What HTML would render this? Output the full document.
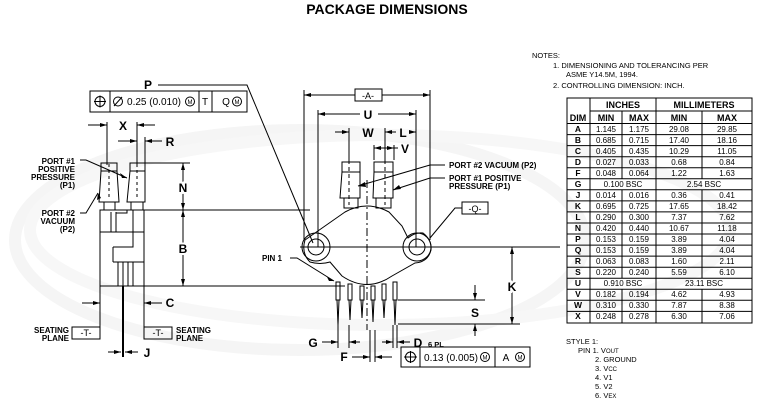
<!DOCTYPE html>
<html><head><meta charset="utf-8"><style>
html,body{margin:0;padding:0;background:#fff;}
svg{display:block;font-family:"Liberation Sans",Arial,sans-serif;}
.b{font-weight:bold;}
</style></head><body>
<svg width="757" height="413" viewBox="0 0 757 413" xmlns="http://www.w3.org/2000/svg">
<!-- watermark -->
<g fill="none" stroke="#f5f5f5" stroke-width="12">
<ellipse cx="300" cy="240" rx="285" ry="110"/>
<ellipse cx="380" cy="230" rx="350" ry="95" stroke="#f7f7f7"/>
</g>
<text x="387" y="14" class="b" font-size="14" text-anchor="middle">PACKAGE DIMENSIONS</text>

<g stroke="#000" fill="none" stroke-width="1">
<!-- left FCF -->
<rect x="90" y="91" width="157" height="21"/>
<line x1="110" y1="91" x2="110" y2="112"/><line x1="199" y1="91" x2="199" y2="112"/><line x1="212" y1="91" x2="212" y2="112"/>
<circle cx="100" cy="101.5" r="5"/><line x1="94" y1="101.5" x2="106" y2="101.5"/><line x1="100" y1="95.5" x2="100" y2="107.5"/>
<circle cx="118" cy="101.5" r="4.5"/><line x1="114" y1="106" x2="122" y2="97"/>
<circle cx="190" cy="101.5" r="4.5"/><circle cx="237" cy="101.5" r="4.5"/>
<!-- P leader -->
<polyline points="158,85 247,85 313,243"/>
<!-- X,R dims -->
<line x1="107" y1="122" x2="107" y2="165"/><line x1="137" y1="122" x2="137" y2="165"/><line x1="145" y1="137" x2="145" y2="165"/>
<line x1="88" y1="125" x2="107" y2="125"/><line x1="137" y1="125" x2="155" y2="125"/>
<line x1="118" y1="141" x2="137" y2="141"/><line x1="145" y1="141" x2="162" y2="141"/>
<!-- left ports -->
<rect x="101" y="163" width="16" height="8"/>
<polygon points="101,171 117,171 119,202 99,202"/>
<rect x="104" y="202" width="11" height="8"/>
<rect x="130" y="163" width="15" height="8"/>
<polygon points="130,171 145,171 145,202 127,202"/>
<rect x="131" y="202" width="12" height="8"/>
<line x1="109" y1="164" x2="109" y2="200" stroke-dasharray="3,3"/><line x1="137" y1="164" x2="137" y2="200" stroke-dasharray="3,3"/>
<!-- left body -->
<rect x="100" y="210" width="44" height="76"/>
<line x1="100" y1="232" x2="144" y2="232"/>
<line x1="111" y1="212" x2="111" y2="232"/><line x1="116" y1="212" x2="116" y2="232"/>
<polyline points="116,213 127,213 127,210"/><line x1="133" y1="210" x2="133" y2="232"/>
<polyline points="113,247 133,247 133,232"/><line x1="113" y1="247" x2="113" y2="262"/><line x1="113" y1="262" x2="144" y2="262"/>
<line x1="118" y1="262" x2="118" y2="286"/><line x1="123" y1="262" x2="123" y2="286"/><line x1="128" y1="262" x2="128" y2="286"/><line x1="133" y1="262" x2="133" y2="286"/>
<line x1="144" y1="210" x2="310" y2="210"/>
<line x1="144" y1="163" x2="190" y2="163"/>
<line x1="100" y1="286" x2="345" y2="286"/>
<line x1="123" y1="286" x2="123" y2="357" stroke-width="2"/>
<!-- N,B dim -->
<line x1="183" y1="163" x2="183" y2="286"/>
<!-- C -->
<line x1="100" y1="286" x2="100" y2="338"/><line x1="144" y1="286" x2="144" y2="338"/>
<line x1="82" y1="303" x2="100" y2="303"/><line x1="144" y1="303" x2="162" y2="303"/>
<rect x="72" y="327" width="28" height="12"/><rect x="144" y="327" width="28" height="12"/>
<line x1="108" y1="352" x2="121" y2="352"/><line x1="125" y1="352" x2="138" y2="352"/>
<!-- port leaders left -->
<polyline points="80,160 86,160 127,178"/>
<polyline points="80,213 86,213 98,193"/>

<!-- main view -->
<line x1="304" y1="90" x2="304" y2="240"/><line x1="430" y1="90" x2="430" y2="240"/>
<line x1="304" y1="95" x2="355" y2="95"/><line x1="382" y1="95" x2="430" y2="95"/>
<rect x="355" y="89" width="27" height="12"/>
<line x1="318" y1="110" x2="318" y2="247"/><line x1="416" y1="110" x2="416" y2="247"/>
<line x1="318" y1="114" x2="360" y2="114"/><line x1="378" y1="114" x2="416" y2="114"/>
<line x1="349" y1="128" x2="349" y2="160"/><line x1="385" y1="128" x2="385" y2="160"/><line x1="374" y1="145" x2="374" y2="160"/><line x1="394" y1="145" x2="394" y2="160"/>
<line x1="335" y1="132" x2="349" y2="132"/><line x1="385" y1="132" x2="396" y2="132"/><line x1="410" y1="132" x2="416" y2="132"/>
<line x1="374" y1="148" x2="398" y2="148"/>
<!-- ports main -->
<rect x="342" y="162" width="18" height="10"/>
<polygon points="342,172 360,172 360,198 340,198"/>
<rect x="344" y="198" width="14" height="10"/>
<rect x="374" y="162" width="19" height="10"/>
<polygon points="374,172 393,172 393,198 373,198"/>
<rect x="376" y="198" width="15" height="10"/>
<line x1="349" y1="160" x2="349" y2="205" stroke-dasharray="4,3"/><line x1="385" y1="160" x2="385" y2="205" stroke-dasharray="4,3"/>
<!-- body -->
<path d="M305,240 L345,212 Q367,200 389,212 L402,226 L408,238 Q415,232 423,233 Q432,240 431,250 Q428,262 415,263 L392,276 Q367,293 342,276 L330,262 Q320,265 310,262 Q301,253 305,240 Z"/>
<circle cx="316" cy="247" r="14"/><circle cx="316" cy="247" r="8"/>
<circle cx="417" cy="247" r="14"/><circle cx="417" cy="247" r="8"/>
<line x1="300" y1="247" x2="560" y2="247"/>
<line x1="367" y1="180" x2="367" y2="330" stroke-dasharray="8,3,2,3"/>
<!-- pins -->
<g>
<rect x="336" y="282" width="4" height="18"/><rect x="348" y="284" width="4" height="16"/><rect x="360" y="286" width="4" height="14"/><rect x="371" y="286" width="4" height="14"/><rect x="382" y="284" width="4" height="16"/><rect x="393" y="282" width="4" height="18"/>
<polyline points="337,300 338,325 339,300"/><polyline points="349,300 350,320 351,300"/><polyline points="361,300 362,318 363,300"/><polyline points="372,300 373,322 374,300"/><polyline points="383,300 384,318 385,300"/><polyline points="394,300 395,325 396,300"/>
</g>
<line x1="338" y1="325" x2="338" y2="348"/><line x1="349" y1="325" x2="349" y2="348"/><line x1="370" y1="330" x2="370" y2="362"/><line x1="375" y1="330" x2="375" y2="362"/><line x1="393" y1="325" x2="393" y2="348"/><line x1="397" y1="325" x2="397" y2="348"/>
<line x1="322" y1="342" x2="338" y2="342"/><line x1="349" y1="342" x2="360" y2="342"/><line x1="382" y1="342" x2="393" y2="342"/><line x1="397" y1="342" x2="410" y2="342"/>
<line x1="352" y1="357" x2="370" y2="357"/><line x1="375" y1="357" x2="392" y2="357"/>
<line x1="398" y1="300" x2="485" y2="300"/><line x1="398" y1="324" x2="520" y2="324"/>
<line x1="475" y1="285" x2="475" y2="300"/><line x1="475" y1="324" x2="475" y2="336"/>
<line x1="512" y1="247" x2="512" y2="324"/>
<!-- bottom FCF -->
<rect x="401" y="347" width="129" height="20"/>
<line x1="420" y1="347" x2="420" y2="367"/><line x1="495" y1="347" x2="495" y2="367"/>
<circle cx="410.5" cy="357" r="5"/><line x1="404" y1="357" x2="417" y2="357"/><line x1="410.5" y1="351" x2="410.5" y2="363"/>
<circle cx="485" cy="357" r="4.5"/><circle cx="520" cy="357" r="4.5"/>
<!-- leaders -->
<polyline points="445,165 430,165 358,186"/>
<polyline points="445,178 430,178 393,190"/>
<polyline points="462,208 455,208 430,238"/>
<rect x="462" y="202" width="26" height="12"/>
<polyline points="290,258 297,258 334,281"/>
</g>
<!-- arrowheads -->
<g fill="#000">
<polygon points="107,125 100,123 100,127"/><polygon points="137,125 144,123 144,127"/>
<polygon points="137,141 130,139 130,143"/><polygon points="145,141 152,139 152,143"/>
<polygon points="183,163 181,170 185,170"/><polygon points="183,210 181,203 185,203"/><polygon points="183,210 181,217 185,217"/><polygon points="183,286 181,279 185,279"/>
<polygon points="100,303 93,301 93,305"/><polygon points="144,303 151,301 151,305"/>
<polygon points="121,352 114,350 114,354"/><polygon points="125,352 132,350 132,354"/>
<polygon points="304,95 311,93 311,97"/><polygon points="430,95 423,93 423,97"/>
<polygon points="318,114 325,112 325,116"/><polygon points="416,114 409,112 409,116"/>
<polygon points="349,132 342,130 342,134"/><polygon points="385,132 392,130 392,134"/><polygon points="416,132 409,130 409,134"/>
<polygon points="374,148 381,146 381,150"/><polygon points="394,148 387,146 387,150"/>
<polygon points="512,247 510,254 514,254"/><polygon points="512,324 510,317 514,317"/>
<polygon points="475,300 473,293 477,293"/><polygon points="475,324 473,331 477,331"/>
<polygon points="338,342 331,340 331,344"/><polygon points="349,342 356,340 356,344"/><polygon points="393,342 386,340 386,344"/><polygon points="397,342 404,340 404,344"/>
<polygon points="370,357 363,355 363,359"/><polygon points="375,357 382,355 382,359"/>
<polygon points="358,186 365,182 366,187"/><polygon points="393,190 399,185 401,189"/><polygon points="334,281 327,277 329,281"/>
<polygon points="127,178 120,173 122,178"/><polygon points="98,193 97,200 101,198"/>
</g>
<!-- labels -->
<g font-size="10" class="b" text-anchor="middle">
<text x="148" y="89" font-size="12">P</text>
<text x="123" y="130" font-size="12">X</text>
<text x="170" y="146" font-size="12">R</text>
<text x="183" y="192" font-size="12" style="paint-order:stroke" stroke="#fff" stroke-width="4">N</text>
<text x="183" y="253" font-size="12" style="paint-order:stroke" stroke="#fff" stroke-width="4">B</text>
<text x="170" y="307" font-size="12">C</text>
<text x="147" y="357" font-size="12">J</text>
<text x="368" y="119" font-size="12">U</text>
<text x="368" y="137" font-size="12">W</text>
<text x="403" y="137" font-size="12">L</text>
<text x="405" y="153" font-size="12">V</text>
<text x="512" y="291" font-size="12" style="paint-order:stroke" stroke="#fff" stroke-width="4">K</text>
<text x="475" y="317" font-size="12">S</text>
<text x="313" y="347" font-size="12">G</text>
<text x="344" y="361" font-size="12">F</text>
<text x="418" y="347" font-size="12">D</text>
</g>
<g font-size="8" class="b">
<text x="75" y="164" text-anchor="end">PORT #1</text>
<text x="75" y="172" text-anchor="end">POSITIVE</text>
<text x="75" y="180" text-anchor="end">PRESSURE</text>
<text x="75" y="188" text-anchor="end">(P1)</text>
<text x="75" y="216" text-anchor="end">PORT #2</text>
<text x="75" y="224" text-anchor="end">VACUUM</text>
<text x="75" y="232" text-anchor="end">(P2)</text>
<text x="69" y="333" text-anchor="end">SEATING</text>
<text x="69" y="341" text-anchor="end">PLANE</text>
<text x="176" y="333">SEATING</text>
<text x="176" y="341">PLANE</text>
<text x="449" y="168">PORT #2 VACUUM (P2)</text>
<text x="449" y="181">PORT #1 POSITIVE</text>
<text x="449" y="189">PRESSURE (P1)</text>
<text x="262" y="261">PIN 1</text>
<text x="428" y="347" font-size="7.5">6 PL</text>
</g>
<g font-size="9" text-anchor="middle">
<text x="86" y="336">-T-</text><text x="158" y="336">-T-</text>
<text x="368" y="99">-A-</text><text x="475" y="212">-Q-</text>
<text x="154" y="105" font-size="10">0.25 (0.010)</text><text x="205" y="105" font-size="10">T</text><text x="226" y="105" font-size="10">Q</text>
<text x="190" y="104" font-size="6">M</text><text x="237" y="104" font-size="6">M</text>
<text x="451" y="361" font-size="10">0.13 (0.005)</text><text x="506" y="361" font-size="10">A</text>
<text x="485" y="359.5" font-size="6">M</text><text x="520" y="359.5" font-size="6">M</text>
</g>
<!-- notes -->
<g font-size="7.5">
<text x="532" y="58">NOTES:</text>
<text x="553" y="68">1.  DIMENSIONING AND TOLERANCING PER</text>
<text x="566" y="77">ASME Y14.5M, 1994.</text>
<text x="553" y="88">2.  CONTROLLING DIMENSION: INCH.</text>
<text x="566" y="344">STYLE 1:</text>
<text x="578" y="353">PIN 1.  V<tspan font-size="6">OUT</tspan></text>
<text x="595" y="362">2.  GROUND</text>
<text x="595" y="371">3.  V<tspan font-size="6">CC</tspan></text>
<text x="595" y="380">4.  V1</text>
<text x="595" y="389">5.  V2</text>
<text x="595" y="398">6.  V<tspan font-size="6">EX</tspan></text>
</g>
<!-- table -->
<g stroke="#000" stroke-width="1" fill="none">
<rect x="567" y="98" width="185" height="225"/>
<line x1="590" y1="98" x2="590" y2="323"/><line x1="656" y1="98" x2="656" y2="323"/>
<line x1="590" y1="111" x2="752" y2="111"/><line x1="567" y1="123.5" x2="752" y2="123.5"/>
<path d="M567,134.6H752M567,145.6H752M567,156.7H752M567,167.7H752M567,178.8H752M567,189.8H752M567,200.9H752M567,211.9H752M567,223H752M567,234H752M567,245.1H752M567,256.1H752M567,267.2H752M567,278.2H752M567,289.3H752M567,300.3H752M567,311.4H752"/>
<path d="M622,111V178.8M622,189.8V278.2M622,289.3V323M702,111V178.8M702,189.8V278.2M702,289.3V323"/>
</g>
<g font-size="8" text-anchor="middle">
<g class="b" font-size="9"><text x="623" y="108">INCHES</text><text x="704" y="108">MILLIMETERS</text>
<text x="578" y="121">DIM</text><text x="606" y="121">MIN</text><text x="639" y="121">MAX</text><text x="679" y="121">MIN</text><text x="727" y="121">MAX</text></g>
<g class="b" font-size="8.5">
<text x="578" y="132">A</text><text x="578" y="143">B</text><text x="578" y="154">C</text><text x="578" y="165">D</text><text x="578" y="176">F</text><text x="578" y="187">G</text><text x="578" y="198">J</text><text x="578" y="209">K</text><text x="578" y="220">L</text><text x="578" y="231">N</text><text x="578" y="242">P</text><text x="578" y="253">Q</text><text x="578" y="264">R</text><text x="578" y="275">S</text><text x="578" y="286">U</text><text x="578" y="297">V</text><text x="578" y="308">W</text><text x="578" y="319">X</text></g>
<g>
<text x="606" y="132">1.145</text><text x="639" y="132">1.175</text><text x="679" y="132">29.08</text><text x="727" y="132">29.85</text>
<text x="606" y="143">0.685</text><text x="639" y="143">0.715</text><text x="679" y="143">17.40</text><text x="727" y="143">18.16</text>
<text x="606" y="154">0.405</text><text x="639" y="154">0.435</text><text x="679" y="154">10.29</text><text x="727" y="154">11.05</text>
<text x="606" y="165">0.027</text><text x="639" y="165">0.033</text><text x="679" y="165">0.68</text><text x="727" y="165">0.84</text>
<text x="606" y="176">0.048</text><text x="639" y="176">0.064</text><text x="679" y="176">1.22</text><text x="727" y="176">1.63</text>
<text x="623" y="187">0.100 BSC</text><text x="704" y="187">2.54 BSC</text>
<text x="606" y="198">0.014</text><text x="639" y="198">0.016</text><text x="679" y="198">0.36</text><text x="727" y="198">0.41</text>
<text x="606" y="209">0.695</text><text x="639" y="209">0.725</text><text x="679" y="209">17.65</text><text x="727" y="209">18.42</text>
<text x="606" y="220">0.290</text><text x="639" y="220">0.300</text><text x="679" y="220">7.37</text><text x="727" y="220">7.62</text>
<text x="606" y="231">0.420</text><text x="639" y="231">0.440</text><text x="679" y="231">10.67</text><text x="727" y="231">11.18</text>
<text x="606" y="242">0.153</text><text x="639" y="242">0.159</text><text x="679" y="242">3.89</text><text x="727" y="242">4.04</text>
<text x="606" y="253">0.153</text><text x="639" y="253">0.159</text><text x="679" y="253">3.89</text><text x="727" y="253">4.04</text>
<text x="606" y="264">0.063</text><text x="639" y="264">0.083</text><text x="679" y="264">1.60</text><text x="727" y="264">2.11</text>
<text x="606" y="275">0.220</text><text x="639" y="275">0.240</text><text x="679" y="275">5.59</text><text x="727" y="275">6.10</text>
<text x="623" y="286">0.910 BSC</text><text x="704" y="286">23.11 BSC</text>
<text x="606" y="297">0.182</text><text x="639" y="297">0.194</text><text x="679" y="297">4.62</text><text x="727" y="297">4.93</text>
<text x="606" y="308">0.310</text><text x="639" y="308">0.330</text><text x="679" y="308">7.87</text><text x="727" y="308">8.38</text>
<text x="606" y="319">0.248</text><text x="639" y="319">0.278</text><text x="679" y="319">6.30</text><text x="727" y="319">7.06</text>
</g>
</g>
</svg>
</body></html>
